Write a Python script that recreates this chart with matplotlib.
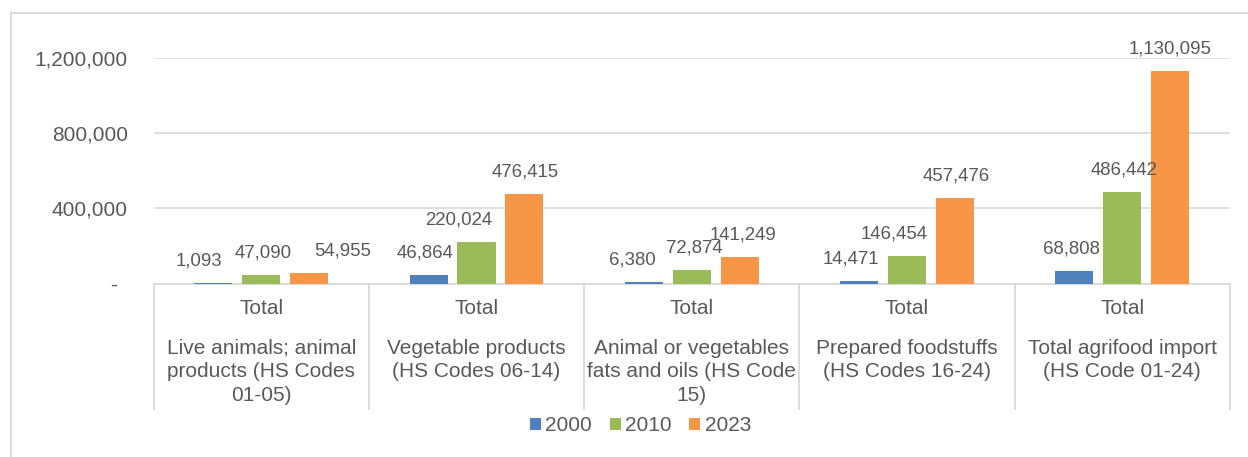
import matplotlib
matplotlib.use("Agg")
import matplotlib.pyplot as plt
import matplotlib.transforms as mtransforms
from matplotlib.lines import Line2D
import numpy as np

# ---- data -------------------------------------------------------------
categories = [
    "Live animals; animal\nproducts (HS Codes\n01-05)",
    "Vegetable products\n(HS Codes 06-14)",
    "Animal or vegetables\nfats and oils (HS Code\n15)",
    "Prepared foodstuffs\n(HS Codes 16-24)",
    "Total agrifood import\n(HS Code 01-24)",
]
group_label = "Total"
years = ["2000", "2010", "2023"]
values_2000 = [1093, 46864, 6380, 14471, 68808]
values_2010 = [47090, 220024, 72874, 146454, 486442]
values_2023 = [54955, 476415, 141249, 457476, 1130095]
y_ticks = [0, 400000, 800000, 1200000]
y_tick_labels = ["-", "400,000", "800,000", "1,200,000"]

# ---- styling ----------------------------------------------------------
colors = ["#4F81BD", "#9BBB59", "#F79646"]
text_color = "#595959"
grid_color = "#D9D9D9"
font = ["Liberation Sans", "DejaVu Sans"]
plt.rcParams["font.family"] = font

# horizontal nudges (px) of value labels so neighbouring labels don't collide
label_dx = [
    [-15, -4, -12, -8, -3],
    [2, -18, 3, -13, 2],
    [34, 1, 3, 2, 0],
]

W, H, DPI = 1248, 457, 100
fig = plt.figure(figsize=(W / DPI, H / DPI), dpi=DPI)
ax_left, ax_right = 153.7, 1229.7
ax_zero, ax_top = 283.7, 57.7
ax = fig.add_axes([ax_left / W, (H - ax_zero) / H,
                   (ax_right - ax_left) / W, (ax_zero - ax_top) / H])

x = np.arange(len(categories))
bar_w = 0.1766
step = 0.2222
series = [values_2000, values_2010, values_2023]
for i, (vals, col, yr) in enumerate(zip(series, colors, years)):
    pos = x + (i - 1) * step
    ax.bar(pos, vals, width=bar_w, color=col, label=yr, zorder=3)
    for j, (p, v) in enumerate(zip(pos, vals)):
        ax.annotate(f"{v:,}", xy=(p, v), xytext=(label_dx[i][j] * 0.72, 22 * 0.72),
                    textcoords="offset points", ha="center", va="center",
                    fontsize=13.4, color=text_color, zorder=4)

ax.set_xlim(-0.5, len(categories) - 0.5)
ax.set_ylim(0, 1200000)
ax.set_yticks(y_ticks)
ax.set_yticklabels(y_tick_labels, fontsize=15, color=text_color)
ax.tick_params(axis="y", length=0, pad=18.7)
ax.set_xticks([])
zero_lbl = ax.get_yticklabels()[0]
zero_lbl.set_transform(zero_lbl.get_transform() +
                       mtransforms.ScaledTranslation(-11 / DPI, 0, fig.dpi_scale_trans))

ax.grid(axis="y", color=grid_color, linewidth=1.2, zorder=0)
for s in ("top", "right", "left"):
    ax.spines[s].set_visible(False)
ax.spines["bottom"].set_color(grid_color)
ax.spines["bottom"].set_linewidth(1.3)

# multi-level category axis
trans = mtransforms.blended_transform_factory(ax.transData, ax.transAxes)
axh = ax_zero - ax_top
sep_bottom = -(409 - ax_zero) / axh
for b in np.arange(-0.5, len(categories), 1.0):
    ax.plot([b, b], [0, sep_bottom], transform=trans, color=grid_color,
            linewidth=1.3, clip_on=False, zorder=1)
total_y = -(308.3 - ax_zero) / axh
name_y = -(338.5 - ax_zero) / axh
for xi, name in zip(x, categories):
    ax.text(xi, total_y, group_label, transform=trans, ha="center", va="center",
            fontsize=15, color=text_color)
    ax.text(xi, name_y, name, transform=trans, ha="center", va="top",
            fontsize=15, color=text_color, linespacing=1.31, multialignment="center")

leg = fig.legend(loc="center", bbox_to_anchor=(640.5 / W, 1 - 425.7 / H),
                 ncol=3, frameon=False, fontsize=15, handlelength=0.53,
                 handleheight=0.53, handletextpad=0.2, columnspacing=0.85,
                 labelcolor=text_color)

# chart-area frame (top and left edges)
fig.add_artist(Line2D([11 / W, 1.0], [1 - 12.7 / H, 1 - 12.7 / H],
                      transform=fig.transFigure, color=grid_color, linewidth=1.3))
fig.add_artist(Line2D([11 / W, 11 / W], [0, 1 - 12.7 / H],
                      transform=fig.transFigure, color=grid_color, linewidth=1.3))

fig.savefig("out.png", dpi=DPI, facecolor="white")
